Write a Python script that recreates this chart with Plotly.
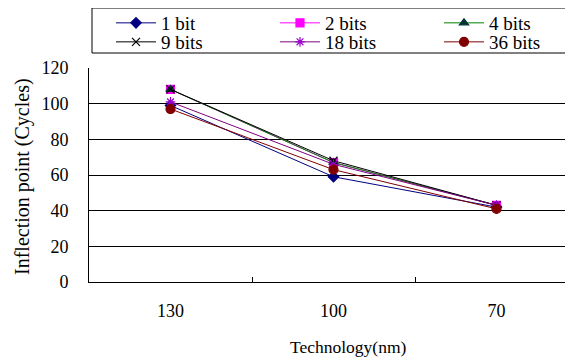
import plotly.graph_objects as go

categories = ["130", "100", "70"]
series_names = ["1 bit", "2 bits", "4 bits", "9 bits", "18 bits", "36 bits"]
v_1bit = [99, 59, 42]
v_2bits = [108, 67, 43]
v_4bits = [108, 67, 43]
v_9bits = [108, 68, 43]
v_18bits = [101, 66, 43]
v_36bits = [97, 63, 41]
y_ticks = [0, 20, 40, 60, 80, 100, 120]

values = [v_1bit, v_2bits, v_4bits, v_9bits, v_18bits, v_36bits]
line_colors = ["#000080", "#FF00FF", "#008000", "#000000", "#800080", "#800000"]
marker_colors = ["#000080", "#FF00FF", "#003333", "#000000", "#9900CC", "#800000"]
symbols = ["diamond", "square", "triangle-up", "x-thin-open", "asterisk-open", "circle"]
sizes = [8, 8, 8, 8, 8, 9]

# page body has an 8px margin; work in window pixels and convert
OFF = 8
W, H = 573 - OFF, 358 - OFF
L = 89 - OFF
R = 0
T = 68 - OFF
B = H - (282 - OFF)
pw, ph = W - L - R, H - T - B

def px2x(px):
    return (px - OFF - L) / pw

def px2y(py):
    return (H - B - (py - OFF)) / ph

FONT = "Liberation Serif"

col_px = [111, 275, 439]
row_px = [23, 42]

fig = go.Figure()
legend_layouts = {}
for i, (name, vals, lc, mc, sym, sz) in enumerate(zip(series_names, values, line_colors, marker_colors, symbols, sizes)):
    lg = f"legend{i + 2}"
    fig.add_trace(go.Scatter(
        x=categories, y=vals, name=name, mode="lines+markers",
        line=dict(color=lc, width=1),
        marker=dict(symbol=sym, size=sz, color=mc,
                    line=dict(color=mc, width=1.2)),
        legend=lg,
    ))
    legend_layouts[lg] = dict(
        x=px2x(col_px[i % 3]), y=px2y(row_px[i // 3]),
        xanchor="left", yanchor="middle", orientation="h",
        itemwidth=40, font=dict(family=FONT, size=19, color="black"),
        bgcolor="rgba(0,0,0,0)", borderwidth=0,
    )

cat_w = 163
fig.update_layout(
    width=W, height=H,
    margin=dict(l=L, r=R, t=T, b=B, autoexpand=False),
    paper_bgcolor="white", plot_bgcolor="white",
    font=dict(family=FONT, size=18, color="black"),
    showlegend=True,
    legend=dict(visible=False),
    xaxis=dict(
        type="category", range=[-0.5, -0.5 + pw / cat_w],
        showline=True, linecolor="black", linewidth=1,
        ticks="inside", tickson="boundaries", ticklen=5, tickcolor="black",
        showgrid=False, zeroline=False,
        ticklabelstandoff=12,
        tickfont=dict(family=FONT, size=18, color="black"),
    ),
    yaxis=dict(
        range=[0, 120], tickvals=y_ticks,
        showline=True, linecolor="black", linewidth=1,
        showgrid=True, gridcolor="black", gridwidth=1,
        zeroline=False, ticks="", ticklabelstandoff=16,
        tickfont=dict(family=FONT, size=18, color="black"),
    ),
    annotations=[
        dict(text="Technology(nm)", xref="paper", yref="paper",
             x=px2x(348), y=px2y(347), xanchor="center", yanchor="middle",
             showarrow=False, font=dict(family=FONT, size=17.5, color="black")),
        dict(text="Inflection point (Cycles)", xref="paper", yref="paper",
             x=px2x(22), y=px2y(177), xanchor="center", yanchor="middle",
             textangle=-90, showarrow=False,
             font=dict(family=FONT, size=20, color="black")),
    ],
    shapes=[
        dict(type="rect", xref="paper", yref="paper",
             x0=px2x(92), x1=px2x(580), y0=px2y(53), y1=px2y(8),
             line=dict(color="black", width=1), layer="above"),
        dict(type="line", xref="paper", yref="paper",
             x0=px2x(92), x1=px2x(580), y0=px2y(7), y1=px2y(7),
             line=dict(color="#808080", width=2)),
    ],
    **legend_layouts,
)

fig.write_html("out.html")
